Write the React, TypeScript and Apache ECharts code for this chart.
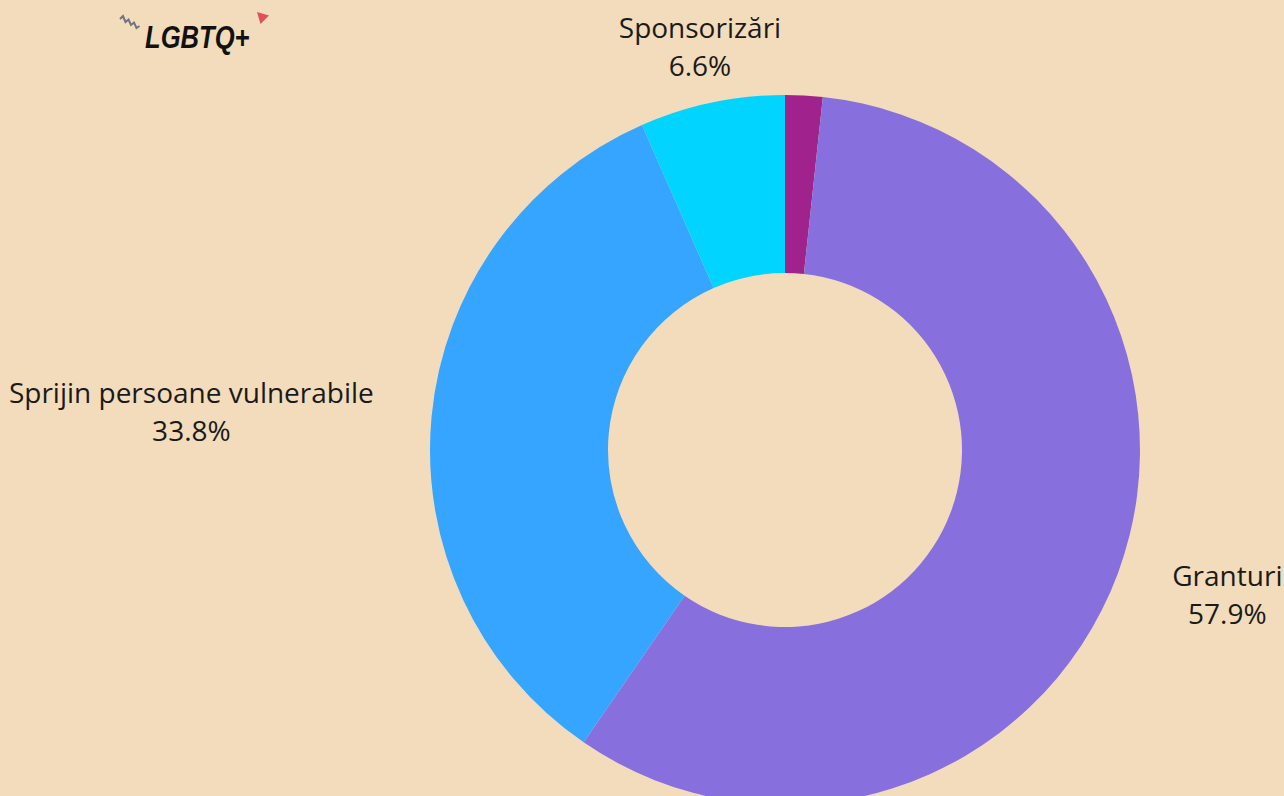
import React, { useEffect, useRef } from "react";
import * as echarts from "echarts";

const categories = ["Donații", "Granturi", "Sprijin persoane vulnerabile", "Sponsorizări"];
const values = [1.7, 57.9, 33.8, 6.6];
const sliceColors = ["#A0238D", "#8770DE", "#36A5FF", "#00D4FF"];
const showLabel = [false, true, true, true];

const CENTER: [number, number] = [785, 450];
const INNER = 177;
const OUTER = 355;
const LABEL_R = 413;

export default function App() {
  const ref = useRef<HTMLDivElement>(null);
  useEffect(() => {
    if (!ref.current) return;
    const chart = echarts.init(ref.current, null, { renderer: "svg" });
    const total = values.reduce((a, b) => a + b, 0);
    const midAngles: number[] = [];
    let acc = 0;
    values.forEach((v) => {
      midAngles.push(((acc + v / 2) / total) * Math.PI * 2);
      acc += v;
    });
    chart.setOption({
      animation: false,
      backgroundColor: "#F2DCBB",
      graphic: [
        {
          type: "polyline",
          shape: {
            points: [
              [120, 19], [123, 16], [125.5, 22], [128.5, 19.5], [131, 25], [134, 22.5], [136.5, 28], [139.5, 26],
            ],
          },
          style: { stroke: "#6E7380", lineWidth: 2, fill: null },
        },
        {
          type: "text",
          x: 145,
          y: 37,
          scaleX: 0.8,
          style: {
            text: "LGBTQ+",
            font: "italic bold 32px 'Liberation Sans Narrow', 'Liberation Sans', sans-serif",
            fill: "#111111",
            verticalAlign: "middle",
          },
        },
        {
          type: "polygon",
          shape: { points: [[257, 12], [269, 15.5], [260.5, 24]] },
          style: { fill: "#E2505E" },
        },
      ],
      series: [
        {
          type: "pie",
          center: CENTER,
          radius: [INNER, OUTER],
          startAngle: 90,
          clockwise: true,
          avoidLabelOverlap: false,
          label: {
            show: true,
            position: "outside",
            formatter: (p: any) => `${p.name}\n${p.value.toFixed(1)}%`,
            fontFamily: "'Open Sans', 'Noto Sans', sans-serif",
            fontSize: 28,
            lineHeight: 38,
            color: "#1A1A1A",
            align: "center",
          },
          labelLine: { show: false },
          labelLayout: (params: any) => {
            const a = midAngles[params.dataIndex];
            const s = Math.sin(a);
            const c = Math.cos(a);
            const ax = CENTER[0] + LABEL_R * s;
            const ay = CENTER[1] - LABEL_R * c;
            const w = params.labelRect.width;
            let x = ax;
            if (s > 0.5) x = ax + w / 2;
            else if (s < -0.5) x = ax - w / 2;
            return { x, y: ay, align: "center", verticalAlign: "middle" };
          },
          data: categories.map((name, i) => ({
            name,
            value: values[i],
            itemStyle: { color: sliceColors[i] },
            label: { show: showLabel[i] },
          })),
        },
      ],
    });
    return () => chart.dispose();
  }, []);
  return (
    <div
      ref={ref}
      style={{ position: "fixed", left: 0, top: 0, width: 1284, height: 796 }}
    />
  );
}
